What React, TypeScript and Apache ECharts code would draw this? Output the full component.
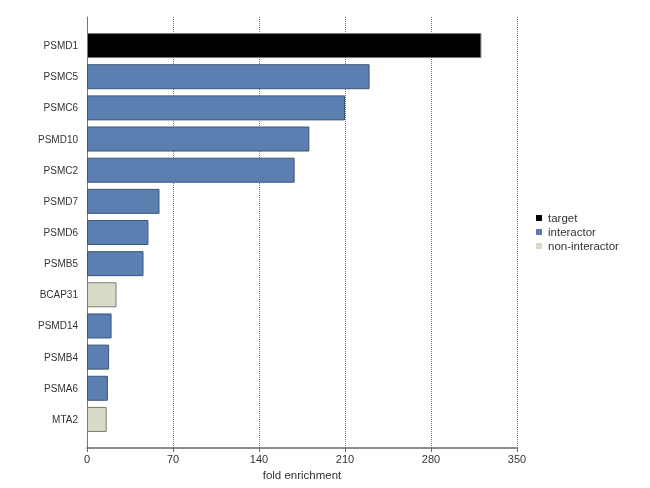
import React, { useEffect, useRef } from "react";
import * as echarts from "echarts";

const proteins = ["PSMD1", "PSMC5", "PSMC6", "PSMD10", "PSMC2", "PSMD7", "PSMD6", "PSMB5", "BCAP31", "PSMD14", "PSMB4", "PSMA6", "MTA2"];
const foldEnrichment = [321, 230, 210, 181, 169, 59, 50, 46, 24, 20, 18, 17, 16];
const kinds = ["target", "interactor", "interactor", "interactor", "interactor", "interactor", "interactor", "interactor", "non-interactor", "interactor", "interactor", "interactor", "non-interactor"];
const groups = ["target", "interactor", "non-interactor"];

const groupColors: Record<string, string> = {
  target: "#000000",
  interactor: "#5a7fb0",
  "non-interactor": "#d8dbc8",
};
const groupBorders: Record<string, string> = {
  target: "#777777",
  interactor: "#3d5678",
  "non-interactor": "#7a7a70",
};

export default function App() {
  const ref = useRef<HTMLDivElement>(null);
  useEffect(() => {
    if (!ref.current) return;
    const chart = echarts.init(ref.current, null, { renderer: "svg" });
    const font = "Liberation Sans, Arial, Helvetica, sans-serif";
    const series = groups.map((g) => ({
      name: g,
      type: "bar",
      stack: "all",
      xAxisIndex: 1,
      yAxisIndex: 1,
      barWidth: 25,
      itemStyle: { color: groupColors[g], borderColor: groupBorders[g], borderWidth: 1 },
      data: foldEnrichment.map((v, i) => (kinds[i] === g ? v : "-")),
    }));
    chart.setOption({
      animation: false,
      textStyle: { fontFamily: font },
      legend: {
        data: groups,
        orient: "vertical",
        left: 531,
        top: 207,
        itemWidth: 6,
        itemHeight: 6,
        itemGap: 2,
        icon: "rect",
        itemStyle: { borderWidth: 0 },
        textStyle: { fontSize: 11.5, color: "#333", fontFamily: font, padding: [0, 0, 0, 1] },
      },
      grid: [
        { left: 87, right: 133, top: 17, bottom: 40, containLabel: false },
        { left: 87, right: 133, top: 30, bottom: 53, containLabel: false },
      ],
      xAxis: [
        {
          type: "value",
          gridIndex: 0,
          min: 0,
          max: 350,
          interval: 70,
          name: "fold enrichment",
          nameLocation: "middle",
          nameGap: 19,
          nameTextStyle: { fontSize: 11.5, color: "#333", fontFamily: font },
          axisLine: { show: true, lineStyle: { color: "#666", width: 1.5 } },
          axisTick: { show: true, length: 4, lineStyle: { color: "#666" } },
          axisLabel: { fontSize: 11, color: "#333", margin: 5, fontFamily: font },
          splitLine: { show: true, lineStyle: { type: "dotted", color: "#777", width: 1 } },
        },
        {
          type: "value",
          gridIndex: 1,
          min: 0,
          max: 350,
          show: false,
          splitLine: { show: false },
        },
      ],
      yAxis: [
        {
          type: "value",
          gridIndex: 0,
          min: 0,
          max: 1,
          axisLine: { show: true, lineStyle: { color: "#777", width: 1 } },
          axisTick: { show: false },
          axisLabel: { show: false },
          splitLine: { show: false },
        },
        {
          type: "category",
          gridIndex: 1,
          inverse: true,
          data: proteins,
          axisLine: { show: false },
          axisTick: { show: false },
          axisLabel: { fontSize: 10, color: "#333", margin: 9, fontFamily: font },
          splitLine: { show: false },
        },
      ],
      series,
    });
    return () => chart.dispose();
  }, []);
  return <div ref={ref} style={{ width: 650, height: 488, position: "fixed", left: 0, top: 0 }} />;
}
